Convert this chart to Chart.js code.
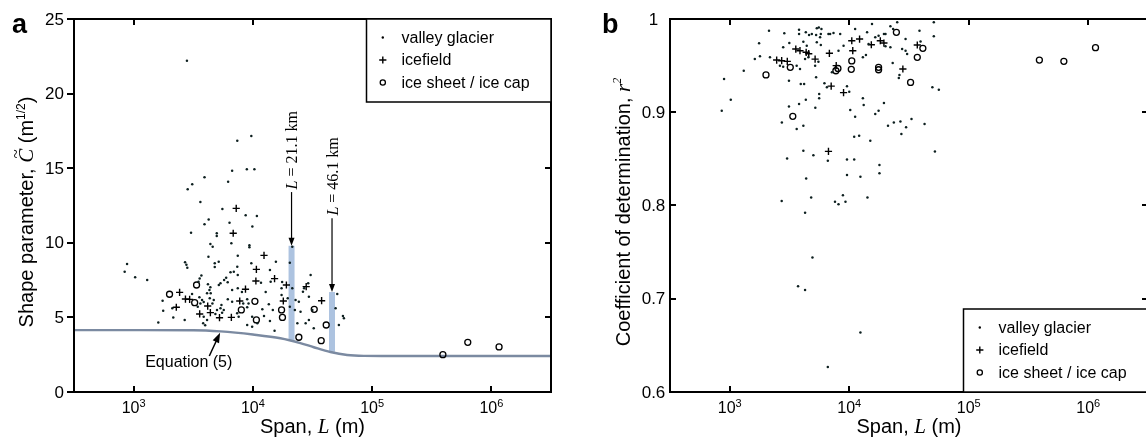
<!DOCTYPE html>
<html>
<head>
<meta charset="utf-8">
<script src="https://cdn.jsdelivr.net/npm/chart.js@4.4.0/dist/chart.umd.min.js"></script>
<style>
  html, body { margin: 0; padding: 0; background: #fff; overflow: hidden; width: 1146px; height: 445px; }
  .panel { position: absolute; top: 0; height: 445px; }
  #panelA { left: 0; width: 573px; }
  #panelB { left: 573px; width: 575px; }
  canvas { display: block; }
</style>
</head>
<body>
<div class="panel" id="panelA"><canvas id="chartA" width="573" height="445"></canvas></div>
<div class="panel" id="panelB"><canvas id="chartB" width="575" height="445"></canvas></div>
<script>
const SANS = '"Liberation Sans", Arial, Helvetica, sans-serif';
const SERIF = '"Liberation Serif", "Times New Roman", serif';

// axes
const xTickExps = [3, 4, 5, 6];
const yTicksA = [0, 5, 10, 15, 20, 25];
const yTicksB = [0.6, 0.7, 0.8, 0.9, 1];
const legendLabels = ['valley glacier', 'icefield', 'ice sheet / ice cap'];

// panel a: [span L (m), shape parameter C]
const valleyA = [
  [2800,22.2],[7400,16.84],[9700,17.16],[6700,14.83],[8900,14.93],[10300,14.93],[2840,13.59],[3100,13.92],
  [3930,14.39],[6200,14.1],[3630,12.73],[5550,12.27],[8700,11.84],[10800,11.8],[4260,11.57],[6370,11.35],
  [3930,11.24],[3030,10.68],[4980,10.64],[4980,10.46],[9900,11.1],[4400,9.92],[4600,9.74],[6600,9.97],
  [9350,9.83],[9350,9.7],[4240,9.07],[7470,9.14],[2700,8.69],[2770,8.53],[2820,8.33],[4790,8.63],
  [4790,8.38],[5170,8.73],[6490,8.02],[6920,8.06],[3700,7.8],[3580,7.6],[5970,7.66],[5740,7.51],
  [7470,7.84],[9700,8.63],[3500,7.39],[5350,7.29],[5180,7.17],[4200,7.22],[4400,7.02],[4320,6.84],
  [4130,6.62],[4430,6.62],[6150,7.35],[6700,6.84],[7470,6.95],[8100,6.7],[1750,6.12],[3090,6.57],
  [3560,6.35],[3750,6.17],[3630,5.94],[3870,6.03],[3450,5.72],[2110,5.61],[1770,5.45],[2150,5.0],
  [2680,4.83],[1610,4.65],[4700,6.17],[4350,6.28],[4580,5.94],[5450,5.83],[5700,5.5],[5520,5.32],
  [5350,5.61],[3870,5.05],[4130,4.83],[3830,4.6],[3980,4.47],[5000,5.5],[4850,5.23],[6160,6.21],
  [6700,6.05],[8300,5.94],[8960,6.21],[9200,5.94],[8960,5.68],[9860,5.05],[7380,5.27],[7600,5.05],
  [9860,4.38],[10900,4.6],[8960,4.49],[881,8.58],[841,8.06],[1030,7.69],[1300,7.51],[15600,8.73],
  [13900,8.18],[11700,7.33],[14100,7.39],[12800,6.7],[17600,7.37],[17400,6.95],[17400,6.5],[19600,6.28],
  [13600,5.88],[14700,5.5],[13900,4.76],[15200,4.11],[12000,5.54],[12400,5.09],[21400,9.74],[20400,8.67],
  [21400,6.95],[20400,5.72],[22800,6.17],[24300,6.05],[22500,5.5],[25100,5.38],[23600,4.6],[27700,4.6],
  [29500,4.83],[30500,7.84],[26900,6.95],[26300,6.72],[29100,7.29],[29500,6.39],[31500,5.5],[32400,4.27],
  [51000,6.57],[49400,5.61],[56900,5.09],[58000,4.94],[52600,4.49],[7400,8.4]
];
const icefieldA = [
  [2430,6.68],[2280,5.68],[2720,6.23],[2950,6.21],[3580,5.23],[4180,5.76],[4400,5.32],[5250,4.98],
  [6600,5.0],[6840,10.64],[7250,12.31],[7760,6.1],[8670,6.89],[10600,7.44],[10700,8.22],[12400,9.16],
  [15200,7.6],[19100,7.17],[18000,6.1],[28000,7.06],[37700,6.12]
];
const iceSheetA = [
  [2000,6.55],[3250,5.99],[3370,7.17],[8000,5.5],[10400,6.08],[10700,4.83],[17400,5.5],[17700,5.0],
  [24300,3.67],[32700,5.54],[41200,4.49],[37400,3.44],[392000,2.5],[634000,3.33],[1160000,3.02]
];
// Equation (5) curve
const eqSpan = [316, 1000, 3160, 5370, 10000, 17000, 25000, 32400, 44700, 61700, 85000, 141000, 3162000];
const eqShape = [4.15, 4.15, 4.14, 4.06, 3.85, 3.6, 3.28, 3.0, 2.68, 2.48, 2.42, 2.41, 2.41];
// highlighted spans
const barSpans = [21100, 46100];
const barLow = [3.45, 2.7];
const barHigh = [9.8, 6.7];
const barLabels = ['21.1 km', '46.1 km'];

// panel b: [span L (m), r^2]
const valleyB = [
  [2130,.9875],[2860,.9847],[3800,.9885],[3800,.9839],[4330,.9857],[4610,.9828],[4860,.9839],[5350,.990],
  [5560,.991],[5850,.9893],[5280,.9828],[5780,.9839],[5700,.9804],[6700,.9839],[1760,.974],[3150,.9742],
  [2800,.9696],[4130,.9757],[4410,.9714],[5350,.975],[5780,.972],[1620,.957],[1790,.96],[2170,.9589],
  [2630,.95],[2800,.9488],[3630,.95],[3870,.9464],[4270,.957],[4550,.9589],[5180,.95],[5520,.9542],
  [896,.9356],[1310,.9445],[3130,.9338],[3930,.9302],[4190,.9302],[5280,.9374],[6200,.931],[6500,.9267],
  [5600,.9195],[5600,.915],[1020,.9134],[857,.9016],[3130,.9063],[3800,.9088],[4330,.9134],[5200,.9048],
  [2730,.8891],[3630,.882],[4130,.8855],[3020,.8505],[4130,.8587],[5010,.854],[6620,.848],[4360,.829],
  [4800,.8086],[2720,.8047],[4270,.7921],[7600,.8039],[8130,.8014],[9300,.8039],[14200,.8086],[9570,.8494],
  [11000,.8494],[9570,.8326],[12400,.8308],[11000,.8737],[12100,.8747],[11200,.8952],[10200,.9023],[13000,.9149],
  [13200,.9077],[9570,.928],[10000,.922],[15500,.9946],[22100,.9922],[23300,.9893],[38700,.9875],[51000,.9965],
  [51000,.9814],[6920,.9839],[7380,.985],[8400,.9839],[11200,.9893],[14100,.9857],[16500,.9804],[17600,.9821],
  [19500,.9839],[20100,.9839],[29600,.9785],[39500,.976],[14500,.9732],[8960,.9714],[8130,.966],[20100,.9707],
  [22100,.9696],[27700,.9678],[29600,.966],[30500,.9624],[13000,.9589],[13800,.9613],[23100,.9528],[26300,.94],
  [26000,.9367],[49600,.9267],[56200,.9241],[7160,.943],[19500,.9098],[17600,.9016],[16500,.898],[21100,.8855],
  [23600,.8891],[26800,.8902],[29900,.8838],[27300,.8766],[33200,.8927],[42700,.8873],[15000,.8694],[52100,.858],
  [17900,.8433],[17900,.8347],[8850,.8111],[4920,.7442],[3730,.7134],[4270,.7095],[12400,.6638],[6620,.6268],
  [25200,.9965]
];
const icefieldB = [
  [3570,.9678],[3870,.966],[4360,.9643],[4580,.9628],[2470,.956],[2720,.9553],[3030,.9546],[5180,.957],
  [6820,.9632],[6700,.858],[7060,.928],[8960,.921],[7780,.95],[10700,.966],[10500,.9767],[12200,.9785],
  [18200,.9767],[19500,.9742],[15300,.9724],[37100,.9721],[28100,.9464]
];
const iceSheetB = [
  [2010,.94],[3210,.9482],[3370,.8956],[7730,.9445],[8040,.947],[10400,.946],[10500,.955],[24800,.9857],
  [41300,.9686],[37100,.9589],[32600,.932],[17600,.9482],[17600,.9456],[390000,.956],[625000,.9546],[1150000,.9692]
];

// annotation anchors (data units)
const arrowStartA = [13.4, 11.65];
const labelMidA = [16.2, 14.45];
const eqLabelAt = { x: 2900, y: 1.68 };
const eqArrowFrom = { x: 4310, y: 2.41 };
const eqArrowTo = { x: 5310, y: 3.97 };

const toXY = pts => pts.map(p => ({ x: p[0], y: p[1] }));

const markerStyles = [
  { pointStyle: 'circle', pointRadius: 1.25, borderWidth: 0, backgroundColor: '#0d1f1f', borderColor: '#0d1f1f' },
  { pointStyle: 'cross', pointRadius: 3.6, borderWidth: 1.4, borderColor: '#000', backgroundColor: '#000' },
  { pointStyle: 'circle', pointRadius: 3, borderWidth: 1.3, borderColor: '#000', backgroundColor: 'rgba(0,0,0,0)' }
];

function pointSets(series) {
  return series.map((s, i) => Object.assign({ type: 'scatter', label: legendLabels[i], data: toXY(s), order: 1, pointHoverRadius: 0 }, markerStyles[i]));
}

function scalesFor(yMin, yMax, yTicks, yWidth) {
  return {
    x: {
      type: 'logarithmic', bounds: 'data', min: Math.pow(10, 2.5), max: Math.pow(10, 6.5),
      afterBuildTicks: s => { s.ticks = xTickExps.map(e => ({ value: Math.pow(10, e) })); },
      ticks: { display: false }, grid: { display: false }, border: { display: false },
      afterFit: s => { s.height = 53; }
    },
    y: {
      type: 'linear', min: yMin, max: yMax,
      afterBuildTicks: s => { s.ticks = yTicks.map(v => ({ value: v })); },
      ticks: { display: false }, grid: { display: false }, border: { display: false },
      afterFit: s => { s.width = yWidth; }
    }
  };
}

function richWidth(ctx, parts) {
  let w = 0;
  parts.forEach(p => { ctx.font = p.font; w += ctx.measureText(p.text).width; });
  return w;
}
// x = centre, y = baseline
function drawRich(ctx, parts, x, y) {
  ctx.textAlign = 'left';
  ctx.textBaseline = 'alphabetic';
  let cx = x - richWidth(ctx, parts) / 2;
  parts.forEach(p => {
    ctx.font = p.font;
    const w = ctx.measureText(p.text).width;
    ctx.fillText(p.text, cx, y + (p.dy || 0));
    if (p.tilde) {
      ctx.font = '17px ' + SERIF;
      ctx.textAlign = 'center';
      ctx.fillText('~', cx + w / 2 + 2, y - 12);
      ctx.textAlign = 'left';
    }
    cx += w;
  });
}

function arrow(ctx, x1, y1, x2, y2, len, half) {
  const ang = Math.atan2(y2 - y1, x2 - x1);
  ctx.beginPath();
  ctx.moveTo(x1, y1);
  ctx.lineTo(x2 - Math.cos(ang) * len * 0.8, y2 - Math.sin(ang) * len * 0.8);
  ctx.stroke();
  ctx.beginPath();
  ctx.moveTo(x2, y2);
  ctx.lineTo(x2 - Math.cos(ang) * len + Math.sin(ang) * half, y2 - Math.sin(ang) * len - Math.cos(ang) * half);
  ctx.lineTo(x2 - Math.cos(ang) * len - Math.sin(ang) * half, y2 - Math.sin(ang) * len + Math.cos(ang) * half);
  ctx.closePath();
  ctx.fill();
}

function drawMarker(ctx, kind, x, y) {
  ctx.beginPath();
  if (kind === 0) { ctx.arc(x, y, 1.2, 0, Math.PI * 2); ctx.fill(); }
  else if (kind === 1) { ctx.lineWidth = 1.4; ctx.moveTo(x - 3.6, y); ctx.lineTo(x + 3.6, y); ctx.moveTo(x, y - 3.6); ctx.lineTo(x, y + 3.6); ctx.stroke(); }
  else { ctx.lineWidth = 1.3; ctx.arc(x, y, 2.6, 0, Math.PI * 2); ctx.stroke(); }
}

function decor(cfg) {
  return {
    id: 'decor',
    afterDraw(chart) {
      const ctx = chart.ctx, a = chart.chartArea, xs = chart.scales.x, ys = chart.scales.y;
      ctx.save();
      ctx.strokeStyle = '#000';
      ctx.fillStyle = '#000';

      // annotations of panel a
      if (cfg.annotate) {
        ctx.lineWidth = 1.2;
        barSpans.forEach((L, i) => {
          const px = xs.getPixelForValue(L);
          arrow(ctx, px, ys.getPixelForValue(arrowStartA[i]), px, ys.getPixelForValue(barHigh[i]), 8, 3);
          ctx.save();
          ctx.translate(px, ys.getPixelForValue(labelMidA[i]));
          ctx.rotate(-Math.PI / 2);
          drawRich(ctx, [
            { text: 'L', font: 'italic 16px ' + SERIF },
            { text: ' = ' + barLabels[i], font: '16px ' + SERIF }
          ], 0, 5.5);
          ctx.restore();
        });
        ctx.lineWidth = 1.5;
        arrow(ctx, xs.getPixelForValue(eqArrowFrom.x), ys.getPixelForValue(eqArrowFrom.y),
          xs.getPixelForValue(eqArrowTo.x), ys.getPixelForValue(eqArrowTo.y), 10, 3.5);
        drawRich(ctx, [{ text: 'Equation (5)', font: '16px ' + SANS }],
          xs.getPixelForValue(eqLabelAt.x), ys.getPixelForValue(eqLabelAt.y));
      }

      // frame and inward ticks
      ctx.lineWidth = 2;
      ctx.strokeRect(a.left, a.top, a.right - a.left, a.bottom - a.top);
      ctx.beginPath();
      xTickExps.forEach(e => {
        const px = Math.round(xs.getPixelForValue(Math.pow(10, e)));
        ctx.moveTo(px, a.bottom); ctx.lineTo(px, a.bottom - 6);
        ctx.moveTo(px, a.top); ctx.lineTo(px, a.top + 6);
      });
      cfg.yTicks.forEach(v => {
        const py = Math.round(ys.getPixelForValue(v));
        if (cfg.leftOut) { ctx.moveTo(a.left - 7, py); ctx.lineTo(a.left, py); }
        else { ctx.moveTo(a.left, py); ctx.lineTo(a.left + 6, py); }
        ctx.moveTo(a.right, py); ctx.lineTo(a.right - 6, py);
      });
      ctx.stroke();

      // tick labels
      xTickExps.forEach(e => {
        drawRich(ctx, [
          { text: '10', font: '16px ' + SANS },
          { text: String(e), font: '11px ' + SANS, dy: -6 }
        ], xs.getPixelForValue(Math.pow(10, e)), a.bottom + 21);
      });
      ctx.font = '17px ' + SANS;
      ctx.textBaseline = 'middle';
      ctx.textAlign = cfg.yLabelAlign;
      cfg.yTicks.forEach(v => {
        ctx.fillText(String(v), a.left + cfg.yLabelDx, ys.getPixelForValue(v) + 1);
      });

      // axis titles
      drawRich(ctx, [
        { text: 'Span, ', font: '20px ' + SANS },
        { text: 'L', font: 'italic 21px ' + SERIF },
        { text: ' (m)', font: '20px ' + SANS }
      ], (a.left + a.right) / 2, 433);
      ctx.save();
      ctx.translate(cfg.yTitleX, 212);
      ctx.rotate(-Math.PI / 2);
      drawRich(ctx, cfg.yTitle, 0, 0);
      ctx.restore();

      // panel letter
      ctx.font = 'bold 27px ' + SANS;
      ctx.textAlign = 'left';
      ctx.textBaseline = 'alphabetic';
      ctx.fillText(cfg.letter, cfg.letterX, 33);

      // legend
      const bw = 184.5, bh = 83;
      const left = a.right - bw;
      const top = cfg.legendTop ? a.top : a.bottom - bh;
      ctx.fillStyle = '#fff';
      ctx.fillRect(left, top, bw, bh);
      ctx.fillStyle = '#000';
      ctx.lineWidth = 1.5;
      ctx.strokeRect(left, top, bw, bh);
      legendLabels.forEach((lab, i) => {
        const base = top + 23.5 + i * 22.5;
        drawMarker(ctx, i, left + 16.3, base - 5);
        ctx.font = '16px ' + SANS;
        ctx.textAlign = 'left';
        ctx.textBaseline = 'alphabetic';
        ctx.fillText(lab, left + 35, base);
      });
      ctx.restore();
    }
  };
}

const commonOpts = {
  responsive: false,
  animation: false,
  events: [],
  layout: { autoPadding: false, padding: { top: 19, right: 22, left: 0, bottom: 0 } },
  plugins: { legend: { display: false }, tooltip: { enabled: false } }
};

// panel a
new Chart(document.getElementById('chartA'), {
  type: 'scatter',
  data: {
    datasets: [
      ...pointSets([valleyA, icefieldA, iceSheetA]),
      {
        type: 'line', label: 'Equation (5)', order: 2,
        data: eqSpan.map((L, i) => ({ x: L, y: eqShape[i] })),
        borderColor: '#7b8aa1', borderWidth: 2.4, pointRadius: 0, cubicInterpolationMode: 'monotone', fill: false
      },
      ...barSpans.map((L, i) => ({
        type: 'line', label: 'span ' + barLabels[i], order: 3,
        data: [{ x: L, y: barLow[i] }, { x: L, y: barHigh[i] }],
        borderColor: '#adc3e0', borderWidth: 6, borderCapStyle: 'butt', pointRadius: 0, fill: false
      }))
    ]
  },
  options: Object.assign({}, commonOpts, { scales: scalesFor(0, 25, yTicksA, 74) }),
  plugins: [decor({
    annotate: true, yTicks: yTicksA, leftOut: true, yLabelAlign: 'right', yLabelDx: -10,
    yTitleX: 33, letter: 'a', letterX: 12, legendTop: true,
    yTitle: [
      { text: 'Shape parameter, ', font: '20px ' + SANS },
      { text: 'C', font: 'italic 21px ' + SERIF, tilde: true },
      { text: ' (m', font: '20px ' + SANS },
      { text: '1/2', font: '12px ' + SANS, dy: -8 },
      { text: ')', font: '20px ' + SANS }
    ]
  })]
});

// panel b
new Chart(document.getElementById('chartB'), {
  type: 'scatter',
  data: { datasets: pointSets([valleyB, icefieldB, iceSheetB]) },
  options: Object.assign({}, commonOpts, {
    layout: { autoPadding: false, padding: { top: 19, right: 0, left: 0, bottom: 0 } },
    scales: scalesFor(0.6, 1, yTicksB, 97)
  }),
  plugins: [decor({
    annotate: false, yTicks: yTicksB, leftOut: false, yLabelAlign: 'center', yLabelDx: -16.5,
    yTitleX: 57, letter: 'b', letterX: 29, legendTop: false,
    yTitle: [
      { text: 'Coefficient of determination, ', font: '20px ' + SANS },
      { text: 'r', font: 'italic 21px ' + SERIF },
      { text: '2', font: 'italic 12px ' + SERIF, dy: -9 }
    ]
  })]
});
</script>
</body>
</html>
